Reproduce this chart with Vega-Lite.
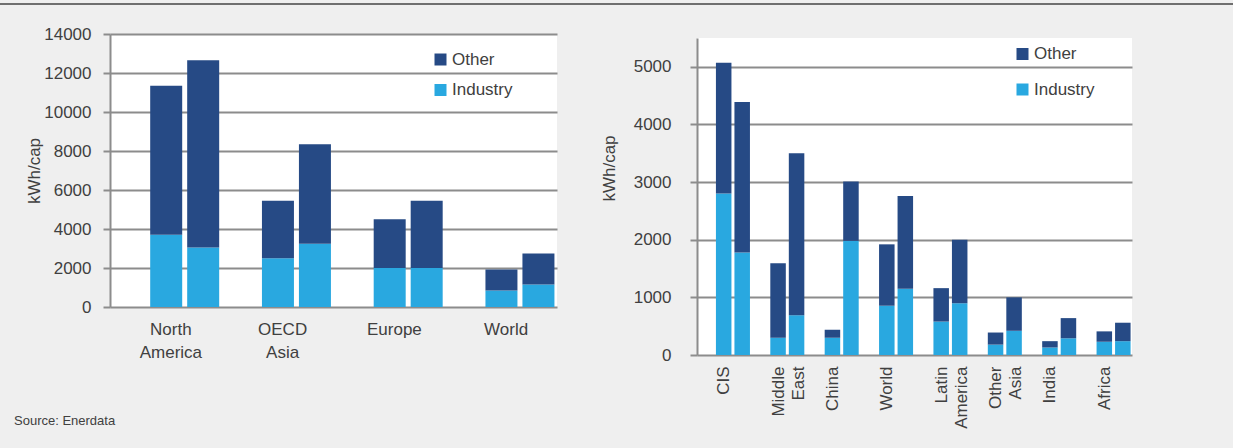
{
  "$schema": "https://vega.github.io/schema/vega-lite/v6.json",
  "background": "#efefef",
  "padding": {"left": 0, "top": 3, "right": 0, "bottom": 25},
  "bounds": "flush",
  "spacing": 29,
  "title": {"text": "Source: Enerdata", "orient": "bottom", "anchor": "start", "frame": "bounds", "offset": -13, "dx": 14, "fontSize": 13, "fontWeight": "normal", "color": "#404040", "font": "Liberation Sans"},
  "config": {
    "view": {"stroke": null},
    "font": "Liberation Sans",
    "axis": {"labelFont": "Liberation Sans", "titleFont": "Liberation Sans", "labelColor": "#404040", "titleColor": "#404040", "labelFontSize": 17, "titleFontSize": 17, "titleFontWeight": "normal"},
    "legend": {"labelFont": "Liberation Sans", "labelFontSize": 17, "labelColor": "#404040", "symbolType": "square", "symbolSize": 144, "symbolStrokeWidth": 0, "labelOffset": 3, "padding": 0, "title": null}
  },
  "datasets": {
    "left": [
      {"region": "North America", "period": "1", "sector": "Industry", "kwh": 3700},
      {"region": "North America", "period": "1", "sector": "Other", "kwh": 7650},
      {"region": "North America", "period": "2", "sector": "Industry", "kwh": 3050},
      {"region": "North America", "period": "2", "sector": "Other", "kwh": 9600},
      {"region": "OECD Asia", "period": "1", "sector": "Industry", "kwh": 2500},
      {"region": "OECD Asia", "period": "1", "sector": "Other", "kwh": 2950},
      {"region": "OECD Asia", "period": "2", "sector": "Industry", "kwh": 3250},
      {"region": "OECD Asia", "period": "2", "sector": "Other", "kwh": 5100},
      {"region": "Europe", "period": "1", "sector": "Industry", "kwh": 2000},
      {"region": "Europe", "period": "1", "sector": "Other", "kwh": 2500},
      {"region": "Europe", "period": "2", "sector": "Industry", "kwh": 2000},
      {"region": "Europe", "period": "2", "sector": "Other", "kwh": 3450},
      {"region": "World", "period": "1", "sector": "Industry", "kwh": 850},
      {"region": "World", "period": "1", "sector": "Other", "kwh": 1070},
      {"region": "World", "period": "2", "sector": "Industry", "kwh": 1150},
      {"region": "World", "period": "2", "sector": "Other", "kwh": 1590}
    ],
    "right": [
      {"region": "CIS", "period": "1", "sector": "Industry", "kwh": 2800},
      {"region": "CIS", "period": "1", "sector": "Other", "kwh": 2270},
      {"region": "CIS", "period": "2", "sector": "Industry", "kwh": 1780},
      {"region": "CIS", "period": "2", "sector": "Other", "kwh": 2610},
      {"region": "Middle East", "period": "1", "sector": "Industry", "kwh": 300},
      {"region": "Middle East", "period": "1", "sector": "Other", "kwh": 1290},
      {"region": "Middle East", "period": "2", "sector": "Industry", "kwh": 690},
      {"region": "Middle East", "period": "2", "sector": "Other", "kwh": 2810},
      {"region": "China", "period": "1", "sector": "Industry", "kwh": 300},
      {"region": "China", "period": "1", "sector": "Other", "kwh": 140},
      {"region": "China", "period": "2", "sector": "Industry", "kwh": 1980},
      {"region": "China", "period": "2", "sector": "Other", "kwh": 1030},
      {"region": "World", "period": "1", "sector": "Industry", "kwh": 855},
      {"region": "World", "period": "1", "sector": "Other", "kwh": 1065},
      {"region": "World", "period": "2", "sector": "Industry", "kwh": 1150},
      {"region": "World", "period": "2", "sector": "Other", "kwh": 1610},
      {"region": "Latin America", "period": "1", "sector": "Industry", "kwh": 580},
      {"region": "Latin America", "period": "1", "sector": "Other", "kwh": 580},
      {"region": "Latin America", "period": "2", "sector": "Industry", "kwh": 900},
      {"region": "Latin America", "period": "2", "sector": "Other", "kwh": 1100},
      {"region": "Other Asia", "period": "1", "sector": "Industry", "kwh": 180},
      {"region": "Other Asia", "period": "1", "sector": "Other", "kwh": 210},
      {"region": "Other Asia", "period": "2", "sector": "Industry", "kwh": 420},
      {"region": "Other Asia", "period": "2", "sector": "Other", "kwh": 580},
      {"region": "India", "period": "1", "sector": "Industry", "kwh": 130},
      {"region": "India", "period": "1", "sector": "Other", "kwh": 110},
      {"region": "India", "period": "2", "sector": "Industry", "kwh": 290},
      {"region": "India", "period": "2", "sector": "Other", "kwh": 350},
      {"region": "Africa", "period": "1", "sector": "Industry", "kwh": 230},
      {"region": "Africa", "period": "1", "sector": "Other", "kwh": 180},
      {"region": "Africa", "period": "2", "sector": "Industry", "kwh": 240},
      {"region": "Africa", "period": "2", "sector": "Other", "kwh": 320}
    ]
  },
  "vconcat": [
    {
      "width": 1233,
      "height": 2,
      "data": {"values": []},
      "mark": "point",
      "encoding": {},
      "view": {"fill": "#6f6f6f", "stroke": null}
    },
    {
      "bounds": "flush",
      "spacing": 10,
      "hconcat": [
        {
          "width": 100,
          "height": 1,
          "data": {"values": []},
          "mark": "point",
          "encoding": {},
          "view": {"fill": null, "stroke": null}
        },
        {
          "bounds": "flush",
          "spacing": 140,
          "resolve": {"scale": {"color": "independent", "xOffset": "independent", "x": "independent", "y": "independent"}, "legend": {"color": "independent"}},
          "hconcat": [
            {
              "width": 447,
              "height": 273,
              "data": {"name": "left"},
              "view": {"fill": "white", "stroke": null},
              "mark": {"type": "bar"},
              "encoding": {
                "x": {
                  "field": "region", "type": "nominal",
                  "sort": ["North America", "OECD Asia", "Europe", "World"],
                  "scale": {"paddingInner": 0, "paddingOuter": 0},
                  "axis": {"title": null, "domain": false, "ticks": false, "tickSize": 0, "labelAngle": 0, "labelPadding": 14, "labelLineHeight": 23, "labelOffset": 5, "labelOverlap": false, "labelExpr": "split(datum.value, ' ')"}
                },
                "xOffset": {
                  "field": "period", "type": "nominal",
                  "scale": {"paddingInner": 0.135, "paddingOuter": 0.578, "align": 0.94}
                },
                "y": {
                  "field": "kwh", "type": "quantitative", "stack": "zero",
                  "scale": {"domain": [0, 14000], "nice": false},
                  "axis": {"title": "kWh/cap", "values": [0, 2000, 4000, 6000, 8000, 10000, 12000, 14000], "format": "d", "grid": true, "gridColor": "#8c8c8c", "gridWidth": 2, "tickColor": "#8c8c8c", "tickWidth": 2, "tickSize": 7, "domainColor": "#8c8c8c", "domainWidth": 2, "labelPadding": 12, "titlePadding": 0}
                },
                "color": {
                  "field": "sector", "type": "nominal",
                  "scale": {"domain": ["Other", "Industry"], "range": ["#264a85", "#29a8e0"]},
                  "legend": {"orient": "none", "legendX": 322, "legendY": 17, "rowPadding": 12.5}
                },
                "order": {"field": "sector", "sort": "ascending"}
              }
            },
            {
              "bounds": "flush",
              "spacing": 3,
              "vconcat": [
                {
                  "width": 1,
                  "height": 1,
                  "data": {"values": []},
                  "mark": "point",
                  "encoding": {},
                  "view": {"fill": null, "stroke": null}
                },
                {
                  "width": 435,
                  "height": 317,
                  "data": {"name": "right"},
                  "view": {"fill": "white", "stroke": null},
                  "mark": {"type": "bar"},
                  "encoding": {
                    "x": {
                      "field": "region", "type": "nominal",
                      "sort": ["CIS", "Middle East", "China", "World", "Latin America", "Other Asia", "India", "Africa"],
                      "scale": {"paddingInner": 0, "paddingOuter": 0},
                      "axis": {"title": null, "domain": false, "ticks": false, "tickSize": 0, "labelAngle": -90, "labelPadding": 11, "labelLineHeight": 20, "labelOverlap": false, "labelExpr": "split(datum.value, ' ')"}
                    },
                    "xOffset": {
                      "field": "period", "type": "nominal",
                      "scale": {"paddingInner": 0.162, "paddingOuter": 0.55, "align": 0.93}
                    },
                    "y": {
                      "field": "kwh", "type": "quantitative", "stack": "zero",
                      "scale": {"domain": [0, 5500], "nice": false},
                      "axis": {"title": "kWh/cap", "values": [0, 1000, 2000, 3000, 4000, 5000], "format": "d", "grid": true, "gridColor": "#8c8c8c", "gridWidth": 2, "tickColor": "#8c8c8c", "tickWidth": 2, "tickSize": 7, "domainColor": "#8c8c8c", "domainWidth": 2, "labelPadding": 19, "titlePadding": 15, "titleY": 130}
                    },
                    "color": {
                      "field": "sector", "type": "nominal",
                      "scale": {"domain": ["Other", "Industry"], "range": ["#264a85", "#29a8e0"]},
                      "legend": {"orient": "none", "legendX": 317, "legendY": 11.5, "rowPadding": 17.5}
                    },
                    "order": {"field": "sector", "sort": "ascending"}
                  }
                }
              ]
            }
          ]
        }
      ]
    }
  ]
}
